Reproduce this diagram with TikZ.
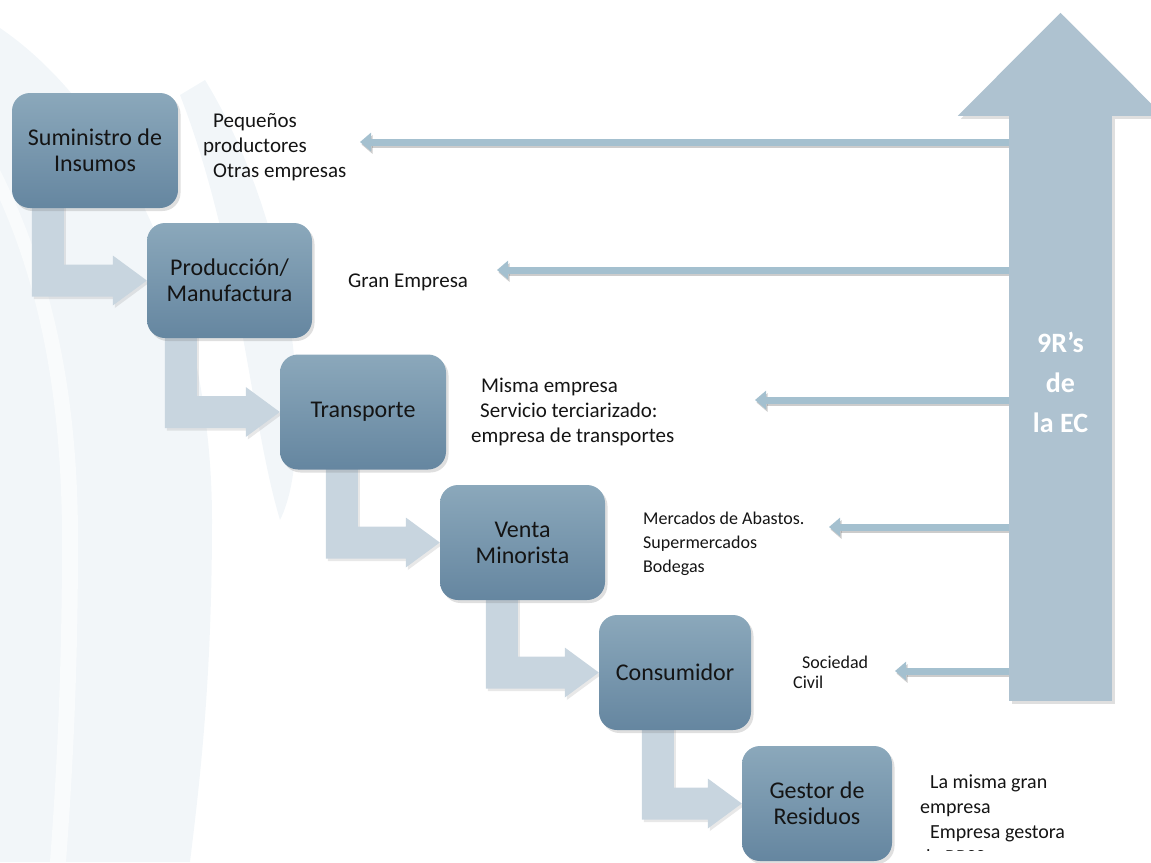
\documentclass[tikz,border=0pt]{standalone}
\usepackage{fontspec}
\setmainfont{Carlito}
\usetikzlibrary{shadows,calc,arrows.meta}

\definecolor{boxtop}{HTML}{8BA8BB}
\definecolor{boxbot}{HTML}{6586A0}
\definecolor{flowfill}{HTML}{C8D5DF}
\definecolor{ecfill}{HTML}{AEC2D0}
\definecolor{linkfill}{HTML}{A4C0CF}
\definecolor{ink}{HTML}{141414}
\definecolor{haze}{HTML}{F2F6F9}
\definecolor{hazelight}{HTML}{F9FBFC}

\pgfdeclarelayer{back}
\pgfdeclarelayer{mid}
\pgfsetlayers{back,mid,main}

\tikzset{
  stage/.style={rounded corners=18pt, top color=boxtop, bottom color=boxbot,
    minimum height=115pt, inner sep=0pt, align=center, text=ink,
    font=\fontsize{24}{26}\selectfont,
    drop shadow={shadow xshift=2.5pt, shadow yshift=-3pt, opacity=0.25}},
  flowarrow/.style={fill=flowfill,
    drop shadow={shadow xshift=2pt, shadow yshift=-2.5pt, opacity=0.18}},
  link/.style={line width=7pt, draw=linkfill, -{Triangle[length=11pt,width=18pt]}},
  linkshadow/.style={line width=7pt, draw=black, opacity=0.2,
    -{Triangle[length=11pt,width=18pt]}, transform canvas={shift={(1.5pt,-2.5pt)}}},
  note/.style={anchor=west, inner sep=0pt, align=left, text=ink},
  ectext/.style={inner sep=0pt, align=center, text=white,
    font=\bfseries\fontsize{28}{40}\selectfont}
}

% L-shaped block arrow from the bottom of one stage to the side of the next
\newcommand\flowstep[3]{%
  \coordinate (s) at ([shift={(#3,-5)}]#1.south west);
  \fill[flowarrow] (s) -- ++(32,0)
    -- ($(s |- #2.west)+(32,-16)$)
    -- ($(#2.west)+(-34,-16)$) -- ($(#2.west)+(-34,-25)$) -- (#2.west)
    -- ($(#2.west)+(-34,25)$) -- ($(#2.west)+(-34,16)$)
    -- ($(s |- #2.west)+(0,16)$) -- cycle;}

\begin{document}
\begin{tikzpicture}[x=1pt,y=-1pt]
\useasboundingbox (0,0) rectangle (1151,862);

% faint background arcs
\begin{pgfonlayer}{back}
  \fill[haze] (0,28) .. controls (120,110) and (212,300) .. (212,520)
    .. controls (212,680) and (200,780) .. (190,862) -- (0,862) -- cycle;
  \fill[hazelight] (0,170) .. controls (55,280) and (78,400) .. (78,540)
    .. controls (78,680) and (72,780) .. (66,862) -- (50,862)
    .. controls (56,780) and (62,680) .. (62,540)
    .. controls (62,400) and (40,290) .. (0,200) -- cycle;
  \fill[haze] (205,80) .. controls (260,170) and (298,300) .. (297,420)
    .. controls (296,470) and (290,500) .. (280,520)
    .. controls (250,420) and (240,250) .. (180,95) -- cycle;
\end{pgfonlayer}

% process stages
\node[stage, minimum width=166pt] (b1) at (95,150.5) {Suministro de\\Insumos};
\node[stage, minimum width=165pt] (b2) at (229.5,280.5) {Producción/\\Manufactura};
\node[stage, minimum width=166pt] (b3) at (363,412) {Transporte};
\node[stage, minimum width=165pt] (b4) at (522.5,542.5) {Venta\\Minorista};
\node[stage, minimum width=152pt] (b5) at (675,672.5) {Consumidor};
\node[stage, minimum width=150pt] (b6) at (817,803.5) {Gestor de\\Residuos};

\begin{pgfonlayer}{mid}
  \flowstep{b1}{b2}{20}
  \flowstep{b2}{b3}{18}
  \flowstep{b3}{b4}{46}
  \flowstep{b4}{b5}{46}
  \flowstep{b5}{b6}{43}
\end{pgfonlayer}

% vertical 9R arrow
\node[fill=ecfill, minimum width=103pt, minimum height=585pt, inner sep=0pt,
  drop shadow={shadow xshift=3pt, shadow yshift=-3pt, opacity=0.25}] (shaft) at (1060.5,408.5) {};
\begin{pgfonlayer}{mid}
  \fill[ecfill, drop shadow={shadow xshift=3pt, shadow yshift=-3pt, opacity=0.25}]
    (shaft.north west) -- ($(shaft.north west)+(-51,0)$) -- ($(shaft.north)+(0,-103)$)
    -- ($(shaft.north east)+(51,0)$) -- (shaft.north east) -- cycle;
\end{pgfonlayer}
\node[ectext] (ec) at (1060.5,382) {9R’s\\de\\la EC};

% arrows towards the actors of each stage
\coordinate (t1) at (360,142);
\coordinate (t2) at (497,270);
\coordinate (t3) at (755,400);
\coordinate (t4) at (829,527);
\coordinate (t5) at (895,671);
\begin{pgfonlayer}{mid}
  \foreach \t in {t1,t2,t3,t4,t5}{
    \draw[linkshadow] (shaft.west |- \t) -- (\t);
    \draw[link] (shaft.west |- \t) -- (\t);
  }
\end{pgfonlayer}

% actors
\node[note, font=\fontsize{21}{25}\selectfont] (a1) at (203,147)
  {\hspace*{10pt}Pequeños\\productores\\\hspace*{10pt}Otras empresas};
\node[note, font=\fontsize{21}{25}\selectfont] (a2) at (348,282) {Gran Empresa};
\node[note, font=\fontsize{21}{25}\selectfont] (a3) at (471,412)
  {\hspace*{10pt}Misma empresa\\\hspace*{9pt}Servicio terciarizado:\\empresa de transportes};
\node[note, font=\fontsize{18}{24}\selectfont] (a4) at (643,544)
  {Mercados de Abastos.\\Supermercados\\Bodegas};
\node[note, font=\fontsize{18}{20}\selectfont] (a5) at (793,672)
  {\hspace*{9pt}Sociedad\\Civil};
\begin{scope}
  \clip (900,700) rectangle (1151,850);
  \node[note, font=\fontsize{20}{25}\selectfont] (a6) at (920,819)
    {\hspace*{10pt}La misma gran\\empresa\\\hspace*{10pt}Empresa gestora\\de RRSS};
\end{scope}
\end{tikzpicture}
\end{document}
